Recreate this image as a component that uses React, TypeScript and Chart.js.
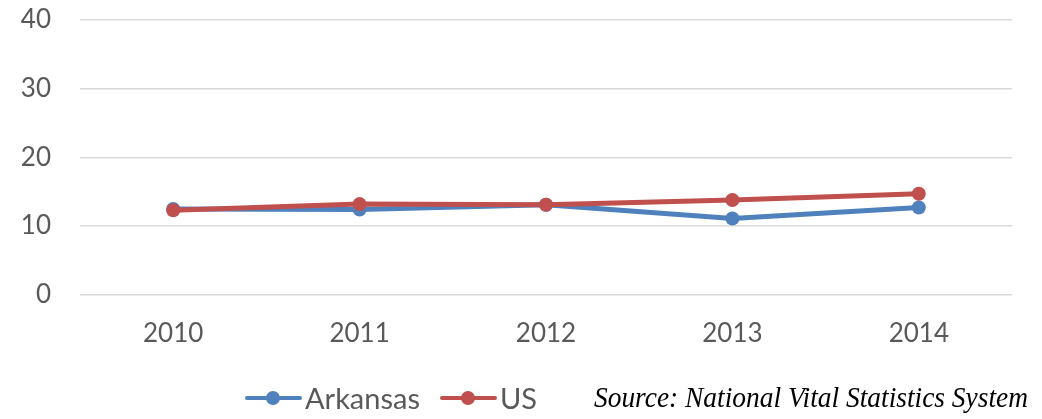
import React, { useEffect, useRef } from "react";
import { Chart, registerables } from "chart.js";

Chart.register(...registerables);

const categories = ["2010", "2011", "2012", "2013", "2014"];
const arkansasValues = [12.5, 12.4, 13.1, 11.1, 12.7];
const usValues = [12.3, 13.2, 13.1, 13.8, 14.7];
const yTicks = [0, 10, 20, 30, 40];
const seriesNames = ["Arkansas", "US"];
const sourceText = "Source: National Vital Statistics System";

const BLUE = "#4f81bd";
const RED = "#c0504d";
const TEXT = "#595959";
const FONT = "Lato, 'Open Sans', sans-serif";

function LegendItem({ color, label, gap }: { color: string; label: string; gap: number }) {
  return (
    <div style={{ display: "flex", alignItems: "center", marginRight: gap }}>
      <div style={{ position: "relative", width: 57, height: 14 }}>
        <div style={{ position: "absolute", left: 0, right: 0, top: 5, height: 4, background: color, borderRadius: 2 }} />
        <div style={{ position: "absolute", left: 21, top: 0, width: 14, height: 14, borderRadius: 7, background: color }} />
      </div>
      <span style={{ fontFamily: FONT, fontSize: 29, color: TEXT, marginLeft: 3, lineHeight: "34px" }}>{label}</span>
    </div>
  );
}

export default function App() {
  const ref = useRef<HTMLCanvasElement | null>(null);
  const srcRef = useRef<HTMLDivElement | null>(null);
  useEffect(() => {
    document.body.style.margin = "0";
    const src = srcRef.current;
    if (src) {
      const w = src.getBoundingClientRect().width;
      if (w > 0) src.style.transform = `scaleX(${434 / w})`;
    }
    const ctx = ref.current!;
    const chart = new Chart(ctx, {
      type: "line",
      data: {
        labels: categories,
        datasets: [
          {
            label: seriesNames[0],
            data: arkansasValues,
            borderColor: BLUE,
            backgroundColor: BLUE,
            borderWidth: 5,
            pointRadius: 7,
            pointBorderWidth: 0,
            pointBackgroundColor: BLUE,
            order: 1,
          },
          {
            label: seriesNames[1],
            data: usValues,
            borderColor: RED,
            backgroundColor: RED,
            borderWidth: 5,
            pointRadius: 7,
            pointBorderWidth: 0,
            pointBackgroundColor: RED,
            order: 0,
          },
        ],
      },
      options: {
        animation: false,
        responsive: false,
        maintainAspectRatio: false,
        layout: { padding: { top: 20, right: 30, bottom: 47, left: 0 } },
        plugins: { legend: { display: false }, tooltip: { enabled: false } },
        scales: {
          x: {
            offset: true,
            grid: { display: false, drawTicks: false },
            border: { display: false },
            ticks: { color: TEXT, font: { family: FONT, size: 26 }, padding: 23, maxRotation: 0 },
          },
          y: {
            min: 0,
            max: 40,
            afterBuildTicks: (s: any) => {
              s.ticks = yTicks.map((v) => ({ value: v }));
            },
            afterFit: (s: any) => {
              s.width = 80;
              s.paddingTop = 0;
              s.paddingBottom = 0;
            },
            grid: { color: "#d9d9d9", lineWidth: 1.5, drawTicks: false },
            border: { display: false },
            ticks: { color: TEXT, font: { family: FONT, size: 26 }, padding: 29 },
          },
        },
      },
    });
    return () => chart.destroy();
  }, []);
  return (
    <div style={{ position: "relative", width: 1042, height: 419, overflow: "hidden" }}>
      <canvas ref={ref} width={1042} height={419} style={{ display: "block" }} />
      <div style={{ position: "absolute", left: 245, top: 381, display: "flex", alignItems: "center", height: 34 }}>
        <LegendItem color={BLUE} label={seriesNames[0]} gap={20} />
        <LegendItem color={RED} label={seriesNames[1]} gap={0} />
      </div>
      <div
        ref={srcRef}
        style={{
          position: "absolute",
          left: 594,
          top: 380,
          fontFamily: "'Liberation Serif', serif",
          fontStyle: "italic",
          fontSize: 29,
          lineHeight: "34px",
          color: "#000",
          whiteSpace: "nowrap",
          transformOrigin: "0 0",
        }}
      >
        {sourceText}
      </div>
    </div>
  );
}
